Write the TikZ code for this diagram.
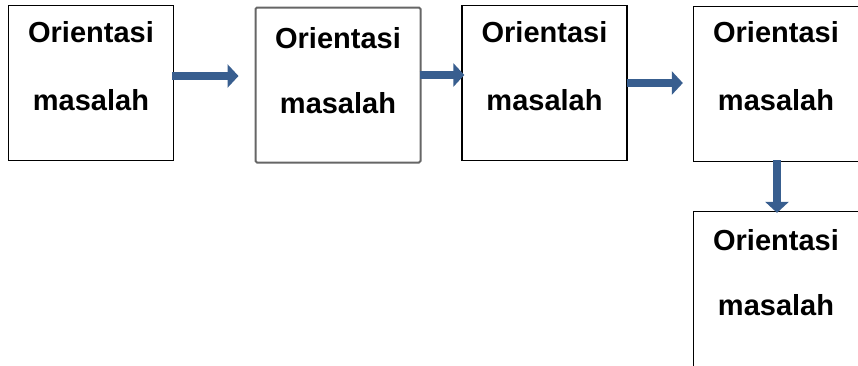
\documentclass[tikz,border=0pt]{standalone}
\usepackage{fontspec}
\setmainfont{Liberation Sans}
\usetikzlibrary{arrows.meta}
\definecolor{arrowblue}{RGB}{56,94,143}
\begin{document}
\begin{tikzpicture}[x=1pt,y=-1pt,
  box/.style={draw=black, line width=1.3pt, minimum width=165pt, minimum height=155pt, inner sep=0pt, fill=white},
  boxgray/.style={box, draw=black!60, line width=2pt, rounded corners=1.5pt},
  lbl/.style={font=\fontsize{29}{29}\selectfont\bfseries, anchor=base, inner sep=0pt},
  flow/.style={draw=arrowblue, line width=8.5pt, -{Triangle[length=11pt,width=23pt]}}]
\useasboundingbox (0,0) rectangle (858,365);

% boxes
\node[box]     (b1) at (91,83)    {};
\node[boxgray] (b2) at (338,85)   {};
\node[box]     (b3) at (544.5,83) {};
\node[box]     (b4) at (776,84)   {};
\node[box]     (b5) at (776,289)  {};

% labels
\node[lbl] (t1a) at (91,42)    {Orientasi};
\node[lbl] (t1b) at (91,110)   {masalah};
\node[lbl] (t2a) at (338,48)   {Orientasi};
\node[lbl] (t2b) at (338,113)  {masalah};
\node[lbl] (t3a) at (544.5,42) {Orientasi};
\node[lbl] (t3b) at (544.5,110){masalah};
\node[lbl] (t4a) at (776,42)   {Orientasi};
\node[lbl] (t4b) at (776,110)  {masalah};
\node[lbl] (t5a) at (776,250)  {Orientasi};
\node[lbl] (t5b) at (776,315)  {masalah};

% connectors
\draw[flow] ([xshift=-2pt,yshift=7pt]b1.east) -- ([xshift=-16pt,yshift=9pt]b2.west);
\draw[flow] ([xshift=-2pt,yshift=10pt]b2.east) -- ([xshift=3pt,yshift=8pt]b3.west);
\draw[flow] ([xshift=-1pt]b3.east) -- ([xshift=-10pt,yshift=1pt]b4.west);
\draw[flow] ([xshift=1pt,yshift=2pt]b4.south) -- ([xshift=1pt,yshift=-2pt]b5.north);
\end{tikzpicture}
\end{document}
